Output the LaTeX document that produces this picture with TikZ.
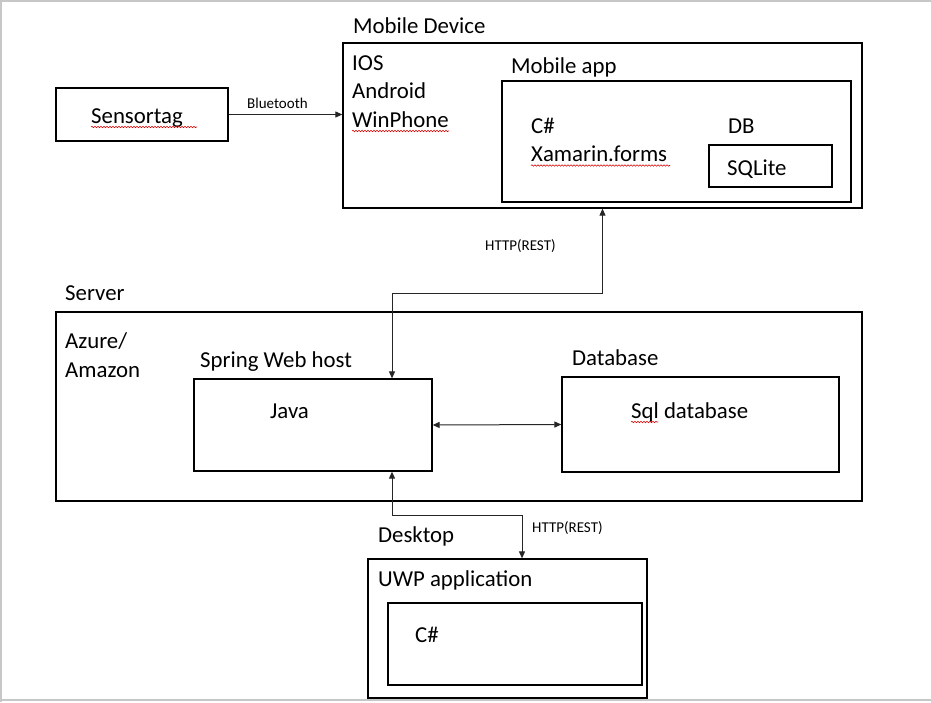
\documentclass[tikz,border=0pt]{standalone}
\usepackage{fontspec}
\setmainfont{Carlito}
\usetikzlibrary{arrows.meta,decorations.pathmorphing}
\tikzset{
  box/.style={draw=black, line width=1.3pt, inner sep=0pt, fill=none},
  big/.style={font=\fontsize{22.8}{27}\selectfont, inner sep=0pt, anchor=base west},
  small/.style={font=\fontsize{15}{18}\selectfont, inner sep=0pt, anchor=base west},
  conn/.style={draw=black!85, line width=1pt, -{Triangle[length=7pt,width=6pt]}},
  conn2/.style={draw=black!85, line width=1pt, {Triangle[length=7pt,width=6pt]}-{Triangle[length=7pt,width=6pt]}},
  spell/.style={draw=red!85!black, line width=0.6pt, decorate, decoration={snake, segment length=3pt, amplitude=0.7pt}},
  frame/.style={draw=black!22, line width=1.6pt}
}
\begin{document}
\begin{tikzpicture}[x=1pt,y=-1pt]
\useasboundingbox[fill=white] (0,0) rectangle (931,702);
% outer frame
\draw[frame] (1,702) -- (1,1) -- (931,1);
\draw[frame] (1,700) -- (931,700);

% boxes
\node[box, minimum width=172pt, minimum height=53pt] (sens) at (142,114.5) {};
\node[box, minimum width=519pt, minimum height=165pt] (mob) at (602.5,125.5) {};
\node[box, minimum width=349pt, minimum height=121pt] (app) at (676.5,141.5) {};
\node[box, minimum width=123pt, minimum height=42pt] (sqlbox) at (770.5,166) {};
\node[box, minimum width=806pt, minimum height=189pt] (server) at (459,406.5) {};
\node[box, minimum width=238pt, minimum height=92pt] (spring) at (313,425) {};
\node[box, minimum width=277pt, minimum height=95pt] (db) at (700.5,424.5) {};
\node[box, minimum width=279pt, minimum height=139pt] (desk) at (507.5,628.5) {};
\node[box, minimum width=254pt, minimum height=82pt] (uwp) at (515,644) {};

% texts
\node[big] (tsens) at (91,123) {Sensortag};
\node[small] (tbt) at (247,108) {Bluetooth};
\node[big] (tmob) at (353,33) {Mobile Device};
\node[big] (tios) at (352,70) {IOS};
\node[big] (tand) at (352,98.5) {Android};
\node[big] (twin) at (352,127) {WinPhone};
\node[big] (tapp) at (511,73) {Mobile app};
\node[big] (tcs1) at (531,133) {C\#};
\node[big] (txam) at (531,161.5) {Xamarin.forms};
\node[big] (tdb1) at (728,133) {DB};
\node[big] (tsqlite) at (727,175) {SQLite};
\node[small] (thttp1) at (485,250) {HTTP(REST)};
\node[big] (tserver) at (65,300) {Server};
\node[big] (tazure) at (65,348) {Azure/};
\node[big] (tamazon) at (65,377) {Amazon};
\node[big] (tspring) at (200,367) {Spring Web host};
\node[big] (tjava) at (270,418) {Java};
\node[big] (tdatabase) at (572,365) {Database};
\node[big] (tsql) at (631,418) {Sql database};
\node[small] (thttp2) at (532,532) {HTTP(REST)};
\node[big] (tdesk) at (378,542) {Desktop};
\node[big] (tuwp) at (378,586) {UWP application};
\node[big] (tcs2) at (415,642) {C\#};

% spell-check underlines
\draw[spell] (tsens.base west) ++(0,4) -- ++(106,0);
\draw[spell] (twin.base west) ++(0,4) -- ++(97,0);
\draw[spell] (txam.base west) ++(0,4) -- ++(139,0);
\draw[spell] (tsql.base west) ++(0,4) -- ++(27,0);

% connectors
\draw[conn] (sens.east) -- (sens.east -| mob.west);
\coordinate (k1) at (392,293);
\coordinate (k2) at (392,515);
\coordinate (k3) at (522,515);
\draw[conn2] (mob.south) |- (k1) -- (k1 |- spring.north);
\draw[conn2] (k2 |- spring.south) -- (k2) -- (k3) -- (k3 |- desk.north);
\draw[conn2] (spring.east) -- (db.west);
\end{tikzpicture}
\end{document}
